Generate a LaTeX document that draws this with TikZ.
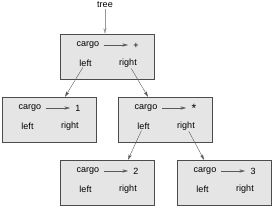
\documentclass[tikz,border=0pt]{standalone}
\usepackage{fontspec}
\setmainfont{Liberation Sans}
\usepackage{xcolor}
\usetikzlibrary{arrows.meta, positioning}

\newcommand\startimes{\raisebox{-1.6pt}{\fontsize{12}{12}\selectfont *}}

\begin{document}
\begin{tikzpicture}[x=1pt, y=-1pt, font=\fontsize{9}{10}\selectfont,
  box/.style={draw=black!70, fill=black!10, minimum width=94pt, minimum height=45pt, inner sep=0pt},
  field/.style={inner sep=1pt},
  link/.style={draw=black!65, -{Stealth[length=5.5pt, width=3.2pt, inset=1.5pt]}}]

\useasboundingbox (0,0) rectangle (273,207);

% Boxes: name / top-left x / top-left y / cargo
\foreach \name/\x/\y/\val in {root/60/34/+, one/2/97/1, mult/118/97/\startimes, two/60/160/2, three/177/160/3}{
  \node[box] (\name) at (\x+47,\y+22.5) {};
  \node[field] (\name-cargo) at (\x+28,\y+11) {cargo};
  \node[field, anchor=base] (\name-val) at (\x+76,\y+14) {\val};
  \node[field] (\name-left) at (\x+25.5,\y+29) {left};
  \node[field] (\name-right) at (\x+68,\y+29) {right};
  \draw[link] (\x+44,\y+11) -- (\x+68,\y+11);
}

% Label on top
\node[field] (tree) at (105,5) {tree};
\draw[link, draw=black!40] (tree) -- (tree |- root.north);

% Links to children
\draw[link] (root-left) -- ([xshift=16pt]one.north);
\draw[link] (root-right) -- ([xshift=-17pt]mult.north);
\draw[link] (mult-left) -- ([xshift=21pt]two.north);
\draw[link] (mult-right) -- ([xshift=-20pt]three.north);

\end{tikzpicture}
\end{document}
